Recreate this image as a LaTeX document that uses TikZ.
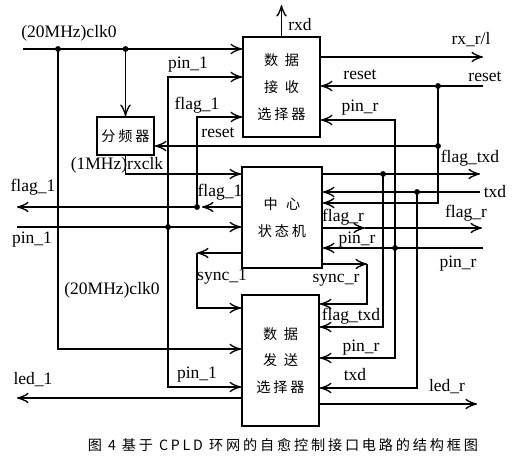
\documentclass[tikz,border=0pt]{standalone}
\usepackage{fontspec}
\setmainfont{Liberation Serif}
\newfontfamily\cjk{Noto Sans CJK SC}[LetterSpace=20]
\usepackage{tikz}
\usetikzlibrary{arrows,arrows.meta,shapes,positioning,calc}

\begin{document}
\begin{tikzpicture}[x=0.6pt, y=-0.6pt, line width=1pt,
    >={Classical TikZ Rightarrow[length=7pt,width=6.5pt]},
    blk/.style={draw, line width=1pt, inner sep=0pt, align=center,
        font=\cjk\fontsize{8.5}{16}\selectfont},
    lbl/.style={inner sep=0pt, font=\fontsize{10.5}{12}\selectfont},
    dot/.style={circle, fill, inner sep=0pt, minimum size=3.5pt}]
    \useasboundingbox (0,0) rectangle (514,468);

    % Blocks
    \node[blk, minimum width=77*0.6pt, minimum height=100*0.6pt] (rcv) at (281.5,87) {数\hspace{4pt}据\\接\hspace{4pt}收\\选择器};
    \node[blk, minimum width=57*0.6pt, minimum height=38*0.6pt] (fdiv) at (125.5,136) {分频器};
    \node[blk, minimum width=80*0.6pt, minimum height=101*0.6pt] (fsm) at (282,217.5) {中\hspace{5pt}心\\状态机};
    \node[blk, minimum width=77*0.6pt, minimum height=131*0.6pt] (snd) at (280.5,360.5) {数\hspace{4pt}据\\发\hspace{4pt}送\\选择器};

    % Free ends and bends
    \coordinate (clkin) at (23,49);
    \coordinate (clkb) at (58,349);
    \coordinate (p1in) at (17,227);
    \coordinate (p1t) at (168,77);
    \coordinate (p1b) at (168,387);
    \coordinate (f1out) at (17,207);
    \coordinate (f1t) at (197,117);
    \coordinate (rxc) at (125.5,174);
    \coordinate (s1) at (197,253);
    \coordinate (s1b) at (197,308);
    \coordinate (l1out) at (17,398);
    \coordinate (rxd) at (281.5,5);
    \coordinate (rxo) at (483,57);
    \coordinate (rsin) at (483,86);
    \coordinate (rsb) at (438,203);
    \coordinate (prt) at (395,120);
    \coordinate (prb) at (395,358);
    \coordinate (prin) at (483,248);
    \coordinate (ftout) at (480,174);
    \coordinate (ftb) at (383,327);
    \coordinate (txin) at (480,192);
    \coordinate (txb) at (417,388);
    \coordinate (frm) at (365,228);
    \coordinate (frout) at (482,228);
    \coordinate (sr) at (367,264);
    \coordinate (srb) at (367,304);
    \coordinate (lrout) at (477,404);

    % Junctions
    \node[dot] (j1) at (58,49) {};
    \node[dot] (j2) at (125.5,49) {};
    \node[dot] (j3) at (168,227) {};
    \node[dot] (j4) at (197,207) {};
    \node[dot] (j5) at (438,86) {};
    \node[dot] (j6) at (438,146) {};
    \node[dot] (j7) at (395,248) {};
    \node[dot] (j8) at (383,174) {};
    \node[dot] (j9) at (417,192) {};

    % Left side
    \draw[->] (clkin) -- (rcv.west |- clkin);
    \draw[->] (j1.center) -- (clkb) -- (snd.west |- clkb);
    \draw[->] (j2.center) -- (fdiv.north);
    \draw[->] (p1in) -- (fsm.west |- p1in);
    \draw[->] (j3.center) -- (p1t) -- (rcv.west |- p1t);
    \draw[->] (j3.center) -- (p1b) -- (snd.west |- p1b);
    \draw[->, shorten >=3pt] (fsm.west |- f1out) -- (j4.center);
    \draw[->] (j4.center) -- (f1out);
    \draw[->] (j4.center) -- (f1t) -- (rcv.west |- f1t);
    \draw[->] (fdiv.south) -- (rxc) -- (fsm.west |- rxc);
    \draw[->] (fsm.west |- s1) -- (s1);
    \draw[->] (s1) -- (s1b) -- (snd.west |- s1b);
    \draw[->] (snd.west |- l1out) -- (l1out);

    % Right side
    \draw[->] (rcv.north) -- (rxd);
    \draw[->] (rcv.east |- rxo) -- (rxo);
    \draw[->] (rsin) -- (rcv.east |- rsin);
    \draw (j5.center) -- (j6.center);
    \draw[->] (j6.center) -- (fdiv.east |- j6);
    \draw[->] (j6.center) -- (rsb) -- (fsm.east |- rsb);
    \draw[->] (prin) -- (fsm.east |- prin);
    \draw[->] (j7.center) -- (prt) -- (rcv.east |- prt);
    \draw[->] (j7.center) -- (prb) -- (snd.east |- prb);
    \draw[->] (fsm.east |- ftout) -- (ftout);
    \draw[->] (j8.center) -- (ftb) -- (snd.east |- ftb);
    \draw[->] (txin) -- (fsm.east |- txin);
    \draw[->] (j9.center) -- (txb) -- (snd.east |- txb);
    \draw[->] (fsm.east |- frm) -- (frm);
    \draw[->] (frm) -- (frout);
    \draw[->] (fsm.east |- sr) -- (sr);
    \draw[->] (sr) -- (srb) -- (snd.east |- srb);
    \draw[->] (snd.east |- lrout) -- (lrout);

    % Labels
    \node[lbl] (tclk) at (69,33) {(20MHz)clk0};
    \node[lbl] (tp1a) at (188,65) {pin\_1};
    \node[lbl] (tf1a) at (197,105) {flag\_1};
    \node[lbl] (trsa) at (218,133) {reset};
    \node[lbl] (trxd) at (300,25) {rxd};
    \node[lbl] (trxo) at (471,40) {rx\_r/l};
    \node[lbl] (trsb) at (360,75) {reset};
    \node[lbl] (trsc) at (485,77) {reset};
    \node[lbl] (tpra) at (360,108) {pin\_r};
    \node[lbl] (tfta) at (470,158) {flag\_txd};
    \node[lbl, anchor=west] (ttxa) at (483,192) {txd};
    \node[lbl] (tf1b) at (33,187) {flag\_1};
    \node[lbl] (tf1c) at (220,192) {flag\_1};
    \node[lbl] (tp1b) at (32,240) {pin\_1};
    \node[lbl] (tfra) at (343,217) {flag\_r};
    \node[lbl] (tfrb) at (466,213) {flag\_r};
    \node[lbl] (tprb) at (357,240) {pin\_r};
    \node[lbl] (tprc) at (458,264) {pin\_r};
    \node[lbl] (tsr) at (336,280) {sync\_r};
    \node[lbl] (ts1) at (222,277) {sync\_1};
    \node[lbl] (tclkb) at (112,290) {(20MHz)clk0};
    \node[lbl] (trxc) at (117,165) {(1MHz)rxclk};
    \node[lbl] (tl1) at (33,380) {led\_1};
    \node[lbl] (tp1c) at (197,375) {pin\_1};
    \node[lbl] (tftb) at (351,316) {flag\_txd};
    \node[lbl] (tprd) at (361,348) {pin\_r};
    \node[lbl] (ttxb) at (355,375) {txd};
    \node[lbl] (tlr) at (447,387) {led\_r};

    % Caption
    \node[font=\cjk\fontsize{8.5}{10}\selectfont] (cap) at (283,445) {图 4 基于 CPLD 环网的自愈控制接口电路的结构框图};
\end{tikzpicture}
\end{document}
